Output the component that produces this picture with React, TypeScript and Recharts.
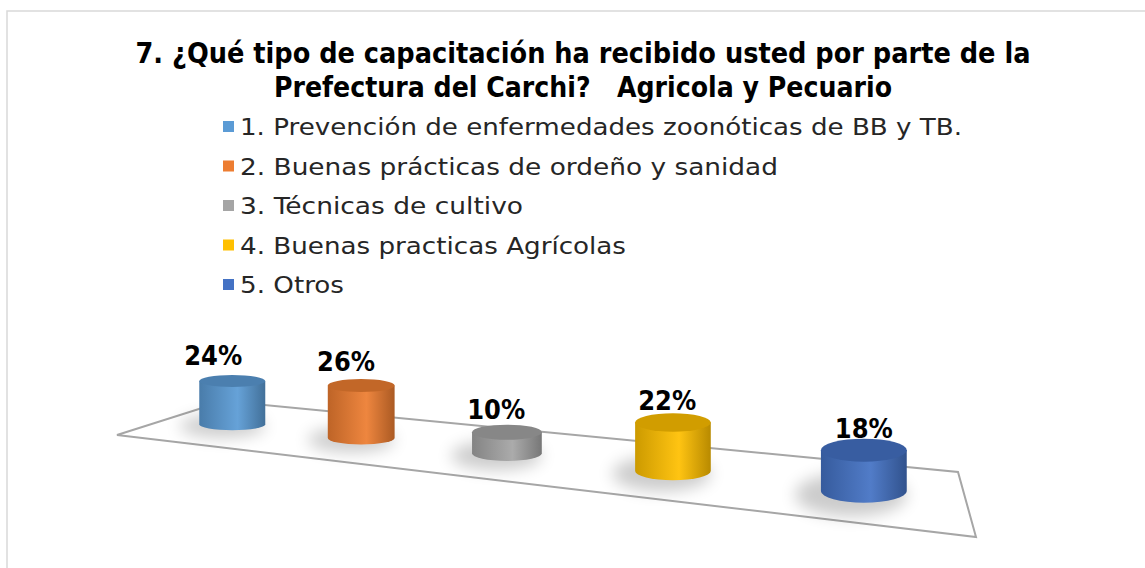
import { BarChart, Bar, XAxis, YAxis, Cell } from 'recharts'

const titleLines = [
  '7. ¿Qué tipo de capacitación ha recibido usted por parte de la',
  'Prefectura del Carchi?   Agricola y Pecuario',
]
const titleWidths = [895, 618]
const categories = [
  '1. Prevención de enfermedades zoonóticas de BB y TB.',
  '2. Buenas prácticas de ordeño y sanidad',
  '3. Técnicas de cultivo',
  '4. Buenas practicas Agrícolas',
  '5. Otros',
]
const legendWidths = [722, 538, 283, 386, 104]
const shares = [24, 26, 10, 22, 18]
const colors = ['#5b9bd5', '#ed7d31', '#a5a5a5', '#ffc000', '#4472c4']

const data = categories.map((name, i) => ({ name, value: shares[i] }))

const W = 1145
const H = 568
const margin = { top: 300, right: 175, bottom: 44, left: 173 }
const plotW = W - margin.left - margin.right
const FONT = '"DejaVu Sans", sans-serif'

// 3d look: the floor recedes to the left
const FAR = 0.72
const warp = (u: number) => (FAR * u) / (1 - (1 - FAR) * u)
const T0 = warp(0.1)
const T1 = warp(0.9)

function shade(hex: string, f: number) {
  const n = parseInt(hex.slice(1), 16)
  const c = [(n >> 16) & 255, (n >> 8) & 255, n & 255].map(v =>
    Math.max(0, Math.min(255, Math.round(f > 1 ? v + (255 - v) * (f - 1) : v * f)))
  )
  return `rgb(${c.join(',')})`
}

function Cylinder(props: any) {
  const { x, width, height, index, fill, payload } = props
  const u = (x + width / 2 - margin.left) / plotW
  const q = warp(u)
  const t = (q - T0) / (T1 - T0)
  const cx = margin.left + plotW * q
  const base = 424 + 0.106 * (cx - 230)
  const w = width * (1 + 0.3 * t * t)
  const h = height * (1.79 + 0.49 * Math.sqrt(t)) / 2.24
  const ry = 6 + 5.5 * Math.pow(t, 1.5)
  const rx = w / 2
  const top = base - h
  const l = cx - rx
  const r = cx + rx
  const gid = `cyl-${index}`
  return (
    <g>
      <defs>
        <linearGradient id={gid} x1="0" y1="0" x2="1" y2="0">
          <stop offset="0%" stopColor={shade(fill, 0.8)} />
          <stop offset="58%" stopColor={shade(fill, 1.07)} />
          <stop offset="100%" stopColor={shade(fill, 0.72)} />
        </linearGradient>
        <filter id={`${gid}-blur`} x="-50%" y="-80%" width="200%" height="260%">
          <feGaussianBlur stdDeviation="8" />
        </filter>
      </defs>
      <ellipse
        cx={cx - rx * 0.3}
        cy={base + ry * 0.3}
        rx={rx * 1.3}
        ry={ry * 1.9}
        fill="#000"
        opacity={0.2}
        filter={`url(#${gid}-blur)`}
      />
      <path
        d={`M${l},${top} L${l},${base} A${rx},${ry} 0 0 0 ${r},${base} L${r},${top} Z`}
        fill={`url(#${gid})`}
      />
      <ellipse cx={cx} cy={top} rx={rx} ry={ry} fill={shade(fill, 0.82)} />
      <text
        x={cx - 19 * (1 - t)}
        y={top - ry - (10 - 9 * t)}
        textAnchor="middle"
        fontFamily={FONT}
        fontWeight="bold"
        fontSize={26}
        textLength={58}
        lengthAdjust="spacingAndGlyphs"
        fill="#000"
      >
        {payload.value}%
      </text>
    </g>
  )
}

export default function App() {
  return (
    <div style={{ position: 'absolute', left: 0, top: 0, width: W, height: H, background: '#fff' }}>
      <svg width={W} height={H} style={{ position: 'absolute', left: 0, top: 0 }}>
        <path d={`M7,${H} L7,11 L${W},11`} fill="none" stroke="#d9d9d9" strokeWidth={1.5} />
        {titleLines.map((line, i) => (
          <text
            key={i}
            x={583}
            y={63 + i * 34}
            textAnchor="middle"
            fontFamily={FONT}
            fontWeight="bold"
            fontSize={28}
            textLength={titleWidths[i]}
            lengthAdjust="spacingAndGlyphs"
            fill="#000"
            style={{ whiteSpace: 'pre' }}
          >
            {line}
          </text>
        ))}
        {categories.map((name, i) => (
          <g key={name}>
            <rect x={223} y={121 + i * 39.5} width={11} height={11} fill={colors[i]} />
            <text
              x={240}
              y={135 + i * 39.5}
              fontFamily={FONT}
              fontSize={23}
              textLength={legendWidths[i]}
              lengthAdjust="spacingAndGlyphs"
              fill="#262626"
            >
              {name}
            </text>
          </g>
        ))}
        <polygon points="117,435 224,401 958,472 976,537" fill="none" stroke="#a6a6a6" strokeWidth={2} />
      </svg>
      <div style={{ position: 'absolute', left: 0, top: 0 }}>
        <BarChart width={W} height={H} data={data} margin={margin}>
          <XAxis dataKey="name" hide />
          <YAxis domain={[0, 100]} hide />
          <Bar dataKey="value" barSize={66} shape={<Cylinder />} isAnimationActive={false}>
            {data.map((d, i) => (
              <Cell key={d.name} fill={colors[i]} />
            ))}
          </Bar>
        </BarChart>
      </div>
    </div>
  )
}
